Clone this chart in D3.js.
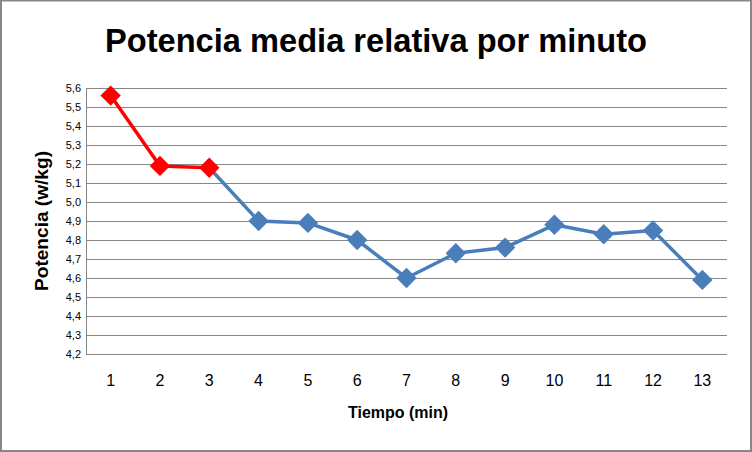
<!DOCTYPE html>
<html><head><meta charset="utf-8">
<script src="https://cdn.jsdelivr.net/npm/d3@7"></script>
<style>body{margin:0;background:#fff}svg{display:block}</style>
</head><body>
<script>
const minutes = [1,2,3,4,5,6,7,8,9,10,11,12,13];
const potencia = [5.56,5.19,5.18,4.90,4.89,4.80,4.60,4.73,4.76,4.88,4.83,4.85,4.59];
const redCount = 3; // first three points highlighted in red
const yTicks = [4.2,4.3,4.4,4.5,4.6,4.7,4.8,4.9,5.0,5.1,5.2,5.3,5.4,5.5,5.6];
const title = "Potencia media relativa por minuto";
const xTitle = "Tiempo (min)";
const yTitle = "Potencia (w/kg)";

const W = 752, H = 452;
const m = {left:86, right:752-727, top:88, bottom:452-354};
const svg = d3.select("body").append("svg").attr("width",W).attr("height",H);

svg.append("rect").attr("x",1).attr("y",0.5).attr("width",W-2).attr("height",H-1.5)
  .attr("fill","#fff").attr("stroke","#878787").attr("stroke-width",2);

const x = d3.scaleBand().domain(minutes).range([m.left, W-m.right]);
const y = d3.scaleLinear().domain([4.2,5.6]).range([H-m.bottom, m.top]);
const fmt = d => d3.format(".1f")(d).replace(".", ",");

// gridlines
const grid = svg.append("g").attr("transform",`translate(${m.left},0)`)
  .call(d3.axisLeft(y).tickValues(yTicks).tickSize(-(W-m.right-m.left)).tickFormat(""));
grid.select(".domain").remove();
grid.selectAll("line").attr("stroke","#868686").attr("stroke-width",1)
  .attr("shape-rendering","crispEdges");

// left axis line
svg.append("line").attr("x1",m.left+0.5).attr("x2",m.left+0.5).attr("y1",m.top).attr("y2",H-m.bottom)
  .attr("stroke","#868686").attr("shape-rendering","crispEdges");

// y labels
const yAx = svg.append("g").attr("transform",`translate(${m.left-5},0)`)
  .call(d3.axisLeft(y).tickValues(yTicks).tickSize(0).tickPadding(0).tickFormat(fmt));
yAx.select(".domain").remove();
yAx.selectAll("text").attr("font-family","Liberation Sans, Arial, sans-serif")
  .attr("font-size",11).attr("fill","#000");

// x labels
const xAx = svg.append("g").attr("transform",`translate(0,${H-m.bottom})`)
  .call(d3.axisBottom(x).tickSize(0).tickPadding(21));
xAx.select(".domain").remove();
xAx.selectAll("text").attr("font-family","Liberation Sans, Arial, sans-serif")
  .attr("font-size",16).attr("fill","#000");

const data = minutes.map((mm,i)=>({m:mm,v:potencia[i],i}));
const cx = d => x(d.m) + x.bandwidth()/2;
const line = d3.line().x(cx).y(d=>y(d.v));

const blue = "#4A7EBB", red = "#FF0000";
const blueData = data.slice(redCount-1), redData = data.slice(0,redCount);

svg.append("path").datum(blueData).attr("d",line).attr("fill","none")
  .attr("stroke",blue).attr("stroke-width",3.5).attr("stroke-linejoin","round");
const diamond = d3.symbol().type(d3.symbolDiamond2).size(265);
svg.selectAll(".bm").data(blueData.slice(1)).enter().append("path")
  .attr("d",diamond).attr("transform",d=>`translate(${cx(d)},${y(d.v)})`).attr("fill",blue);

svg.append("path").datum(redData).attr("d",line).attr("fill","none")
  .attr("stroke",red).attr("stroke-width",3.5).attr("stroke-linejoin","round");
svg.selectAll(".rm").data(redData).enter().append("path")
  .attr("d",diamond).attr("transform",d=>`translate(${cx(d)},${y(d.v)})`).attr("fill",red);

// titles
svg.append("text").attr("x",376).attr("y",52).attr("text-anchor","middle")
  .attr("font-family","Liberation Sans, Arial, sans-serif").attr("font-weight","bold")
  .attr("font-size",33).attr("textLength",542).attr("lengthAdjust","spacingAndGlyphs").text(title);

svg.append("text").attr("x",398).attr("y",418).attr("text-anchor","middle")
  .attr("font-family","Liberation Sans, Arial, sans-serif").attr("font-weight","bold")
  .attr("font-size",17).attr("textLength",100).attr("lengthAdjust","spacingAndGlyphs").text(xTitle);

svg.append("text").attr("transform","translate(48,221) rotate(-90)").attr("text-anchor","middle")
  .attr("font-family","Liberation Sans, Arial, sans-serif").attr("font-weight","bold")
  .attr("font-size",18).attr("textLength",140).attr("lengthAdjust","spacingAndGlyphs").text(yTitle);
</script>
</body></html>
